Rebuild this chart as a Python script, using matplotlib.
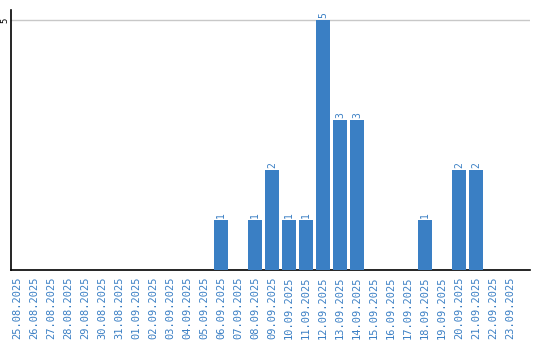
import matplotlib.pyplot as plt

# dates and counts
dates = ["25.08.2025", "26.08.2025", "27.08.2025", "28.08.2025", "29.08.2025",
         "30.08.2025", "31.08.2025", "01.09.2025", "02.09.2025", "03.09.2025",
         "04.09.2025", "05.09.2025", "06.09.2025", "07.09.2025", "08.09.2025",
         "09.09.2025", "10.09.2025", "11.09.2025", "12.09.2025", "13.09.2025",
         "14.09.2025", "15.09.2025", "16.09.2025", "17.09.2025", "18.09.2025",
         "19.09.2025", "20.09.2025", "21.09.2025", "22.09.2025", "23.09.2025"]
counts = [0, 0, 0, 0, 0, 0, 0, 0, 0, 0, 0, 0, 1, 0, 1,
          2, 1, 1, 5, 3, 3, 0, 0, 0, 1, 0, 2, 2, 0, 0]
y_ticks = [5]

blue = '#3a7fc4'

fig = plt.figure(figsize=(5.4, 3.4), dpi=100)
ax = fig.add_axes([11/540, 70/340, 519/540, 260/340])

x = list(range(len(dates)))
ax.bar(x, counts, width=0.82, color=blue, zorder=3)

for i, v in enumerate(counts):
    if v > 0:
        ax.text(i, v + 0.04, str(v), rotation=90, ha='center', va='bottom',
                fontsize=7, color=blue, family='DejaVu Sans Mono')

ax.set_xlim(-0.35, 30.18)
ax.set_ylim(0, 5.2)
ax.set_yticks(y_ticks)
ax.set_yticklabels([str(t) for t in y_ticks], rotation=90, va='center',
                   fontsize=6.5, family='DejaVu Sans Mono')
ax.yaxis.grid(True, color='#c8c8c8', linewidth=1, zorder=0)
ax.tick_params(axis='y', length=0, pad=1)

ax.set_xticks(x)
ax.set_xticklabels(dates, rotation=90, fontsize=7.5, color=blue,
                   family='DejaVu Sans Mono')
ax.tick_params(axis='x', length=0, pad=5)

for s in ['top', 'right']:
    ax.spines[s].set_visible(False)
ax.spines['left'].set_color('black')
ax.spines['bottom'].set_color('black')
ax.spines['left'].set_linewidth(1.2)
ax.spines['bottom'].set_linewidth(1.2)

fig.savefig("out.png", dpi=100)
